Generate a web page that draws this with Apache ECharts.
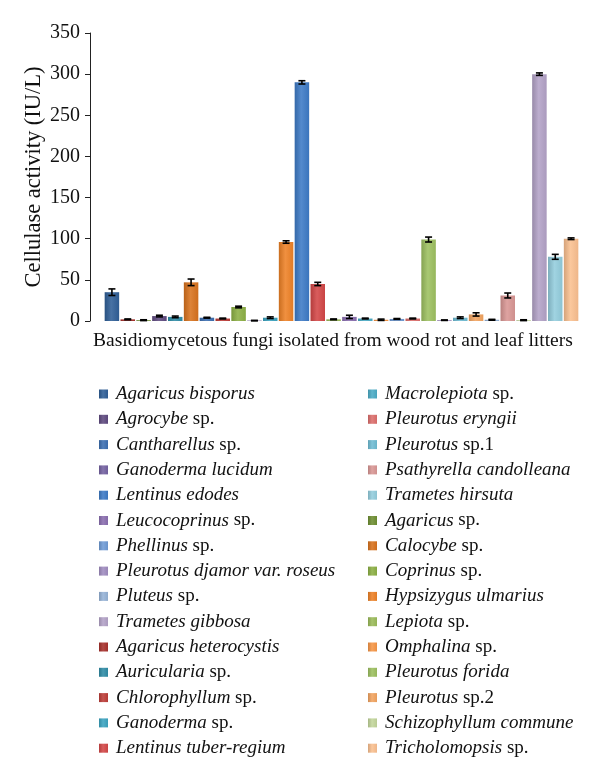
<!DOCTYPE html>
<html><head><meta charset="utf-8">
<script src="https://cdn.jsdelivr.net/npm/echarts@6/dist/echarts.min.js"></script>
<style>html,body{margin:0;padding:0;background:#fff}#c{width:600px;height:780px}</style>
</head><body><div id="c"></div>
<script>
// Species in bar order (left to right)
var species = [
  'Agaricus bisporus','Agaricus heterocystis','Agaricus sp.','Agrocybe sp.','Auricularia sp.','Calocybe sp.',
  'Cantharellus sp.','Chlorophyllum sp.','Coprinus sp.','Ganoderma lucidum','Ganoderma sp.','Hypsizygus ulmarius',
  'Lentinus edodes','Lentinus tuber-regium','Lepiota sp.','Leucocoprinus sp.','Macrolepiota sp.','Omphalina sp.',
  'Phellinus sp.','Pleurotus eryngii','Pleurotus forida','Pleurotus djamor var. roseus','Pleurotus sp.1','Pleurotus sp.2',
  'Pluteus sp.','Psathyrella candolleana','Schizophyllum commune','Trametes gibbosa','Trametes hirsuta','Tricholomopsis sp.'
];
// Cellulase activity (IU/L)
var activity = [35, 2, 1, 6, 5, 47, 4, 3, 17, 0.5, 4, 96, 290, 45, 2, 5, 3, 1.5, 2.5, 3, 99, 1, 4, 8, 1.5, 31, 1, 300, 78, 100];
// error (±)
var errors = [4, 0.5, 0.5, 1, 1, 4, 0.5, 0.5, 1, 0.3, 1, 1.5, 2, 2, 0.5, 2, 0.5, 0.8, 0.5, 0.5, 3, 0.3, 1, 2, 0.5, 3, 0.5, 1.5, 3, 1];
// legend columns
var legendCol1 = ['Agaricus bisporus','Agrocybe sp.','Cantharellus sp.','Ganoderma lucidum','Lentinus edodes','Leucocoprinus sp.',
  'Phellinus sp.','Pleurotus djamor var. roseus','Pluteus sp.','Trametes gibbosa','Agaricus heterocystis','Auricularia sp.',
  'Chlorophyllum sp.','Ganoderma sp.','Lentinus tuber-regium'];
var legendCol2 = ['Macrolepiota sp.','Pleurotus eryngii','Pleurotus sp.1','Psathyrella candolleana','Trametes hirsuta','Agaricus sp.',
  'Calocybe sp.','Coprinus sp.','Hypsizygus ulmarius','Lepiota sp.','Omphalina sp.','Pleurotus forida','Pleurotus sp.2',
  'Schizophyllum commune','Tricholomopsis sp.'];
var yTicks = [0, 50, 100, 150, 200, 250, 300, 350];

var palette = [
  '#2f5f98','#a8302c','#6f8f33','#5f4a80','#2f8ca6','#d8721d',
  '#3c6fb2','#bd3d38','#8cb044','#7462a2','#3aa3c0','#ee8126',
  '#3d7ac6','#d44747','#9bbb59','#8a6eb0','#4bacc6','#f79646',
  '#6f9bd6','#dd6f6c','#9dc060','#a08cc0','#6fbcd4','#f2a460',
  '#95b3d7','#d99694','#c3d69b','#b3a2c7','#93cddd','#fac090'
];
function shade(hex, f) {
  var n = parseInt(hex.slice(1), 16), r = n >> 16, g = (n >> 8) & 255, b = n & 255;
  function c(v){ v = f > 0 ? v + (255 - v) * f : v * (1 + f); return Math.max(0, Math.min(255, Math.round(v))); }
  return 'rgb(' + c(r) + ',' + c(g) + ',' + c(b) + ')';
}
var serif = '"Liberation Serif", "DejaVu Serif", serif';
var series = species.map(function (name, i) {
  var d = species.map(function (_, j) { return j === i ? activity[i] : null; });
  var col = palette[i];
  return {
    name: name, type: 'bar', stack: 'all', barWidth: 14.5, data: d,
    itemStyle: { color: new echarts.graphic.LinearGradient(0, 0, 1, 0, [
      { offset: 0, color: shade(col, -0.15) }, { offset: 0.45, color: shade(col, 0.12) }, { offset: 1, color: shade(col, -0.05) }]) }
  };
});
series.push({
  type: 'custom', name: 'err', z: 10, silent: true,
  data: activity.map(function (v, i) { return [i, v, errors[i]]; }),
  encode: { x: 0, y: 1 },
  renderItem: function (params, api) {
    var i = api.value(0), v = api.value(1), e = api.value(2);
    var p1 = api.coord([i, v + e]), p2 = api.coord([i, v - e]);
    var x = p1[0], hw = 3.5;
    var st = { stroke: '#000', lineWidth: 1.6 };
    return { type: 'group', children: [
      { type: 'line', shape: { x1: x, y1: p1[1], x2: x, y2: p2[1] }, style: st },
      { type: 'line', shape: { x1: x - hw, y1: p1[1], x2: x + hw, y2: p1[1] }, style: st },
      { type: 'line', shape: { x1: x - hw, y1: p2[1], x2: x + hw, y2: p2[1] }, style: st }
    ]};
  }
});
function fmt(name) {
  var m = name.match(/^(.*?)( sp\.\d?)$/);
  if (m) return '{i|' + m[1] + '}{n|' + m[2] + '}';
  return '{i|' + name + '}';
}
var legendText = {
  fontFamily: serif, fontSize: 19, color: '#111', lineHeight: 20, padding: [0, 0, 0, 3],
  rich: { i: { fontStyle: 'italic', fontFamily: serif, fontSize: 19, color: '#111' },
          n: { fontFamily: serif, fontSize: 19, color: '#111' } }
};
var chart = echarts.init(document.getElementById('c'));
chart.setOption({
  animation: false,
  title: { text: 'Basidiomycetous fungi isolated from wood rot and leaf litters', left: 88, top: 326,
    textStyle: { fontFamily: serif, fontSize: 19.5, fontWeight: 'normal', color: '#111' } },
  grid: { left: 104, right: 21, top: 33, bottom: 459 },
  legend: [
    { data: legendCol1, orient: 'vertical', left: 94, top: 379, itemWidth: 9, itemHeight: 9, itemGap: 5.3,
      icon: 'rect', formatter: fmt, textStyle: legendText, selectedMode: false },
    { data: legendCol2, orient: 'vertical', left: 363, top: 379, itemWidth: 9, itemHeight: 9, itemGap: 5.3,
      icon: 'rect', formatter: fmt, textStyle: legendText, selectedMode: false }
  ],
  xAxis: { type: 'category', data: species, axisLine: { show: false }, axisTick: { show: false }, axisLabel: { show: false } },
  yAxis: {
    type: 'value', min: 0, max: 350, interval: 50, offset: 14,
    name: 'Cellulase activity (IU/L)', nameLocation: 'middle', nameGap: 44, nameMoveOverlap: false,
    nameTextStyle: { fontFamily: serif, fontSize: 22.5, color: '#111' },
    axisLine: { show: true, lineStyle: { color: '#222', width: 1 } },
    axisTick: { show: true, length: 5, lineStyle: { color: '#222' } },
    splitLine: { show: false },
    axisLabel: { fontFamily: serif, fontSize: 20, color: '#111', margin: 10,
      formatter: function (v) { return yTicks.indexOf(v) >= 0 ? String(v) : ''; } }
  },
  series: series
});
</script></body></html>
